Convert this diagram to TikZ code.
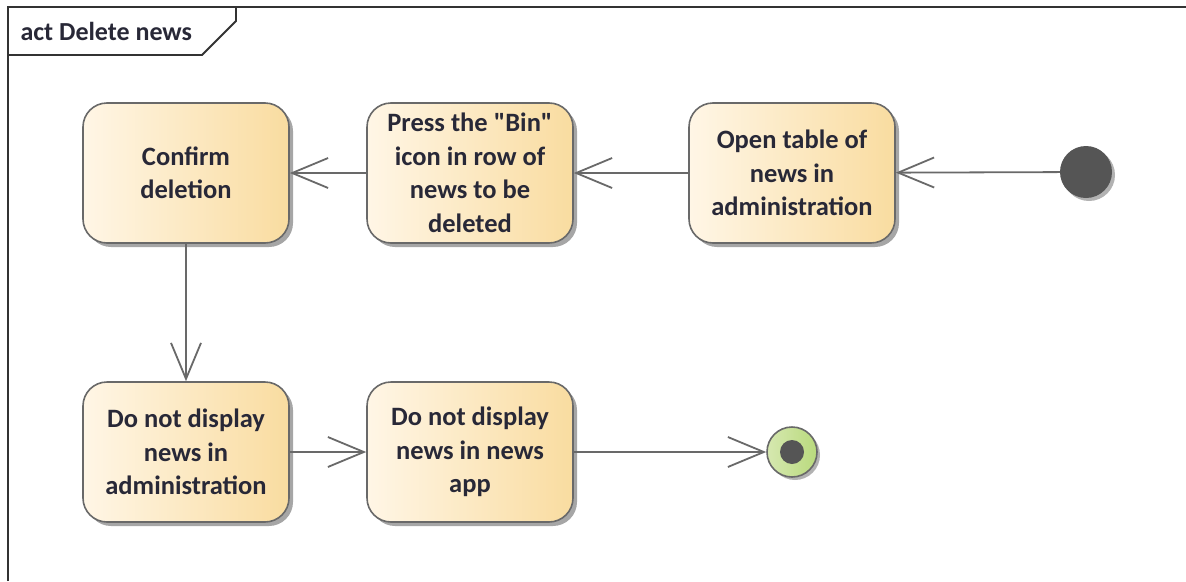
\documentclass[tikz,border=0pt]{standalone}
\usepackage{fontspec}
\setmainfont{Carlito}
\usetikzlibrary{arrows.meta,shadows}
\definecolor{boxL}{RGB}{255,246,230}
\definecolor{boxR}{RGB}{249,220,160}
\definecolor{edge}{RGB}{105,105,105}
\definecolor{txt}{RGB}{40,40,55}
\definecolor{initc}{RGB}{85,85,85}
\definecolor{finL}{RGB}{214,232,176}
\definecolor{finR}{RGB}{185,218,125}
\tikzset{
  actbox/.style={draw=edge, line width=1.6pt, rounded corners=24pt,
    minimum width=206pt, minimum height=140pt, align=center,
    left color=boxL, right color=boxR, text=txt,
    font=\fontsize{26.5}{33.5}\selectfont\bfseries,
    drop shadow={shadow xshift=4pt, shadow yshift=-4pt, opacity=0.35, fill=black}},
  flow/.style={draw=edge, line width=1.8pt, -{Straight Barb[length=36pt,width=30pt]}},
  framel/.style={draw=black!80, line width=1.8pt}
}
\begin{document}
\begin{tikzpicture}[x=1pt,y=-1pt]
\useasboundingbox (0,0) rectangle (1186,581);
\fill[white] (0,0) rectangle (1186,581);
% frame
\draw[framel] (8,581) -- (8,7) -- (1186,7);
\draw[framel] (8,55) -- (202,55) -- (236,21) -- (236,7);
\node[anchor=west, text=txt, font=\fontsize{26}{30}\selectfont\bfseries] (title) at (17,31) {act Delete news};
% nodes
\node[actbox] (confirm) at (186,173) {Confirm\\deletion};
\node[actbox] (press) at (470,173) {Press the \textquotedbl Bin\textquotedbl\\icon in row of\\news to be\\deleted};
\node[actbox] (open) at (792,173) {Open table of\\news in\\administration};
\node[actbox] (nadmin) at (186,452) {Do not display\\news in\\administration};
\node[actbox] (napp) at (470,452) {Do not display\\news in news\\app};
\node[circle, fill=initc, minimum size=52pt, inner sep=0pt,
  drop shadow={shadow xshift=3pt, shadow yshift=-3pt, opacity=0.3, fill=black}] (init) at (1086,172) {};
\node[circle, draw=edge, line width=1.6pt, left color=finL, right color=finR, minimum size=50pt, inner sep=0pt,
  drop shadow={shadow xshift=3pt, shadow yshift=-3pt, opacity=0.3, fill=black}] (final) at (792,452) {};
\node[circle, fill=initc, minimum size=24pt, inner sep=0pt] (finalin) at (final.center) {};
% flows
\draw[flow] (init) -- (open);
\draw[flow] (open) -- (press);
\draw[flow] (press) -- (confirm);
\draw[flow] (confirm) -- (nadmin);
\draw[flow] (nadmin) -- (napp);
\draw[flow] (napp) -- (final);
\end{tikzpicture}
\end{document}
